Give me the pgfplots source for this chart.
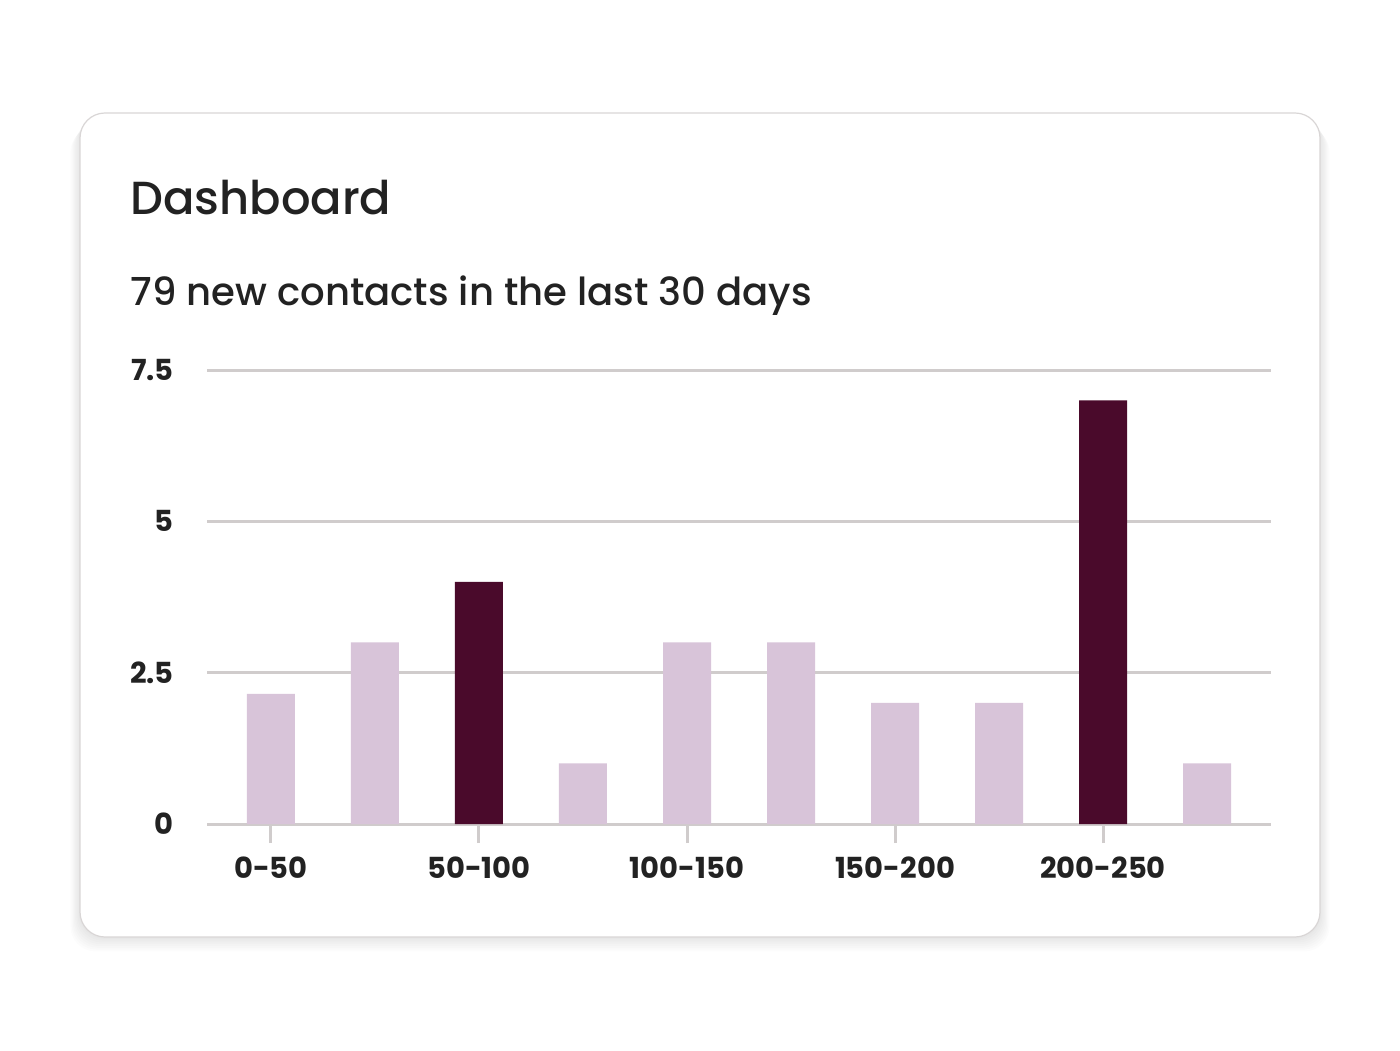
\documentclass[border=0pt]{standalone}
\usepackage{fontspec}
\setmainfont{Poppins}[UprightFont=*-Medium, BoldFont=*-SemiBold]
\newfontfamily\tickfont{Poppins}[UprightFont=*-Bold]
\usepackage{pgfplots}
\pgfplotsset{compat=1.18}
\definecolor{lightbar}{HTML}{D8C4D9}
\definecolor{darkbar}{HTML}{4A0A2B}
\definecolor{gridgray}{HTML}{D0CCCC}
\definecolor{ink}{HTML}{222222}

\begin{document}
\begin{tikzpicture}[x=1pt,y=1pt]
% page: 1400x1050 px at 0.5pt/px, origin at axis corner (207,824)
\fill[white] (-103.5,-113) rectangle (596.5,412);
% soft shadow under the card
\foreach \s in {1,...,8}
  \fill[black, opacity=0.012, rounded corners=12.5pt]
    (-63.5-0.6*\s,-56.5-0.9*\s) rectangle (556.5+0.6*\s,355.5-0.9*\s);
\fill[white, draw=gridgray!80, line width=0.6pt, rounded corners=12.5pt]
  (-63.5,-56.5) rectangle (556.5,355.5);
\node[anchor=base west, inner sep=0pt, font=\fontsize{23.2}{28}\selectfont, text=ink] at (-38.5,304.5) {Dashboard};
\node[anchor=base west, inner sep=0pt, font=\fontsize{19.3}{23}\selectfont, text=ink] at (-38.5,259) {79 new contacts in the last 30 days};
\begin{axis}[
    at={(0,0)}, anchor=south west,
    scale only axis,
    width=532pt, height=227pt,
    xmin=-0.615, xmax=9.615,
    ymin=0, ymax=7.5,
    axis lines=left,
    axis line style={-},
    y axis line style={draw=none},
    x axis line style={gridgray, line width=1.5pt},
    ymajorgrids=true,
    grid style={gridgray, line width=1.5pt},
    xtick={0,2,4,6,8},
    xticklabels={0-50,50-100,100-150,150-200,200-250},
    ytick={0,2.5,5,7.5},
    yticklabels={0,2.5,5,7.5},
    tick align=outside,
    major tick length=9.5pt,
    xtick style={gridgray, line width=1.5pt},
    ytick style={draw=none},
    ticklabel style={font=\tickfont\fontsize{14.5}{18}\selectfont, text=ink, inner sep=0pt},
    xticklabel style={yshift=-6.5pt},
    yticklabel style={xshift=-7pt},
    ybar, bar width=24pt, bar shift=0pt,
    clip=false,
]
\addplot[fill=lightbar, draw=none] coordinates {(0,2.15) (1,3) (3,1) (4,3) (5,3) (6,2) (7,2) (9,1)};
\addplot[fill=darkbar, draw=none] coordinates {(2,4) (8,7)};
\end{axis}
\end{tikzpicture}
\end{document}
